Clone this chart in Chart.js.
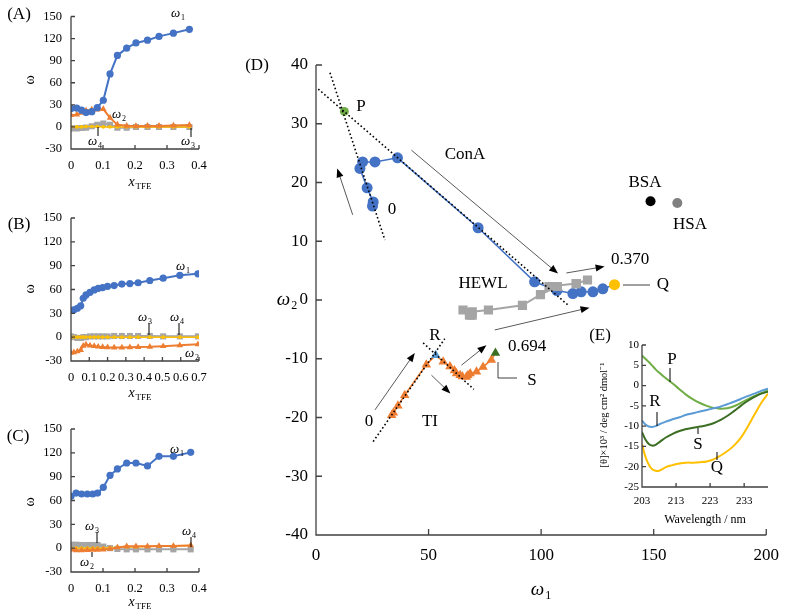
<!DOCTYPE html>
<html>
<head>
<meta charset="utf-8">
<script src="https://cdn.jsdelivr.net/npm/chart.js@4.4.1/dist/chart.umd.min.js"></script>
<style>
  body { margin: 0; background: #fff; }
  #fig { position: relative; width: 789px; height: 614px; overflow: hidden; }
  .box { position: absolute; }
</style>
</head>
<body>
<div id="fig">
  <div class="box" style="left:230px;top:0;width:559px;height:614px"><canvas id="cD"></canvas></div>
  <div class="box" style="left:0;top:0;width:230px;height:200px"><canvas id="cA"></canvas></div>
  <div class="box" style="left:0;top:200px;width:230px;height:200px"><canvas id="cB"></canvas></div>
  <div class="box" style="left:0;top:400px;width:230px;height:214px"><canvas id="cC"></canvas></div>
  <div class="box" style="left:540px;top:325px;width:249px;height:210px"><canvas id="cE"></canvas></div>
</div>
<script>
// (A) ConA, (B) TI, (C) HEWL: omega values vs TFE mole fraction
const xA = [0, 0.018, 0.033, 0.047, 0.065, 0.082, 0.101, 0.122, 0.145, 0.174, 0.203, 0.239, 0.275, 0.32, 0.37];
const a1 = [25.1, 25.4, 22.7, 19.5, 20.7, 26.2, 36.2, 72.0, 97.1, 107.0, 114.1, 117.8, 123.0, 127.4, 132.6];
const a2 = [16.0, 16.7, 19.1, 22.4, 23.5, 23.5, 24.2, 12.3, 3.1, 1.6, 1.1, 1.4, 1.4, 1.9, 2.6];
const a3 = [-2, -2, -1.5, -1, 1, 3, 4.5, 3, -1, -1, 0, 0, 0, 0, 0];
const a4 = [0, 0, 0, 0.5, 0.5, 0.5, 0, 0, 0, 0, 0, 0, 0, 0, 0];

const xB = [0, 0.016, 0.035, 0.053, 0.067, 0.082, 0.104, 0.127, 0.149, 0.173, 0.2, 0.236, 0.278, 0.322, 0.367, 0.431, 0.504, 0.595, 0.694];
const b1 = [33.6, 34.4, 36.4, 39.4, 49.0, 53.2, 56.5, 59.5, 61.5, 62.4, 64.0, 65.0, 66.8, 67.5, 68.5, 71.3, 74.2, 77.9, 79.7];
const b2 = [-19.6, -19.2, -18.0, -16.2, -11.0, -9.4, -10.5, -11.3, -12.0, -12.5, -12.8, -13.0, -13.1, -12.8, -12.5, -12.2, -11.4, -10.2, -9.0];
const b3 = [1, 0, -1, -1, 0, 0, 1, 1, 1, 1, 1, 1.5, 1.5, 1.5, 1.5, 1.5, 1, 1, 1];
const b4 = [0, 0, 0, 0, 0, 0, 0, 0, 0, 0, 0, 0, 0, 0, 0, 0, 0, 0, 0];

const xC = [0, 0.016, 0.033, 0.051, 0.068, 0.083, 0.101, 0.122, 0.145, 0.174, 0.203, 0.239, 0.275, 0.32, 0.374];
const c1 = [65.3, 69.4, 68.2, 68.2, 68.2, 69.4, 76.6, 91.7, 99.7, 107.2, 107.2, 103.5, 115.6, 115.6, 120.6];
const c2 = [-1.7, -2.6, -2.6, -2.4, -2.2, -2.0, -1.7, -0.9, 0.9, 2.3, 2.3, 2.3, 2.8, 2.8, 3.4];
const c3 = [4.4, 4.4, 4.0, 4.0, 4.0, 4.0, 2.0, 0, -1, -1.5, -1.5, -1.5, -1.5, -1.5, -1.5];
const c4 = [0, 0, 0, 0, 0, 0, 0, 0.5, 1, 1.5, 1.5, 2, 2.5, 3, 3.5];

// (D) reference points
const refNames = ['P', 'BSA', 'HSA'];
const refW1 = [12.6, 148.6, 160.5];
const refW2 = [32.1, 16.8, 16.5];

// (E) CD spectra
const wl = [203, 204, 205, 206, 207, 208, 209, 210, 212, 214, 216, 218, 220, 222, 224, 226, 228, 230, 232, 234, 236, 238, 240];
const cdP = [7.4, 6.6, 5.8, 4.9, 4.0, 3.2, 2.5, 1.8, 0.5, -0.9, -2.3, -3.4, -4.3, -5.0, -5.5, -5.7, -5.6, -5.1, -4.3, -3.4, -2.6, -1.9, -1.2];
const cdR = [-8.6, -9.6, -10.1, -10.2, -10.0, -9.6, -9.2, -8.9, -8.3, -7.8, -7.2, -6.8, -6.4, -6.0, -5.6, -5.2, -4.6, -4.0, -3.3, -2.6, -2.0, -1.3, -0.8];
const cdS = [-11.5, -13.3, -14.4, -14.8, -14.6, -14.0, -13.4, -12.8, -11.9, -11.2, -10.7, -10.4, -10.1, -9.8, -9.3, -8.5, -7.5, -6.3, -5.0, -3.8, -2.8, -2.0, -1.5];
const cdQ = [-14.4, -17.5, -19.5, -20.6, -21.0, -21.0, -20.6, -20.1, -19.6, -19.2, -19.0, -19.0, -18.9, -18.7, -18.2, -17.3, -16.2, -14.8, -12.9, -10.2, -7.2, -4.3, -2.0];
const wlTicks = [203, 213, 223, 233];

const serif = "'Liberation Serif', 'Times New Roman', serif";
const blue = '#4472c4', orange = '#ed7d31', gray = '#a5a5a5', yellow = '#ffc000';
const green = '#70ad47', lightBlue = '#5b9bd5', darkGreen = '#3b6e22';

function pts(xs, ys) { return xs.map((x, i) => ({ x: x, y: ys[i] })); }

function drawItem(chart, ctx, it) {
  const P = p => it.px ? p : [chart.scales.x.getPixelForValue(p[0]), chart.scales.y.getPixelForValue(p[1])];
  if (it.line) {
    ctx.save();
    ctx.strokeStyle = it.color || '#000';
    ctx.lineWidth = it.w || 1;
    ctx.setLineDash(it.dash || []);
    ctx.beginPath();
    it.line.forEach((p, i) => { const q = P(p); i ? ctx.lineTo(q[0], q[1]) : ctx.moveTo(q[0], q[1]); });
    ctx.stroke();
    ctx.restore();
  } else if (it.arrow) {
    const a = P(it.arrow[0]), b = P(it.arrow[1]);
    const ang = Math.atan2(b[1] - a[1], b[0] - a[0]);
    ctx.save();
    ctx.strokeStyle = '#595959';
    ctx.lineWidth = 1;
    ctx.beginPath();
    ctx.moveTo(a[0], a[1]);
    ctx.lineTo(b[0] - 6 * Math.cos(ang), b[1] - 6 * Math.sin(ang));
    ctx.stroke();
    ctx.translate(b[0], b[1]);
    ctx.rotate(ang);
    ctx.fillStyle = '#000';
    ctx.beginPath();
    ctx.moveTo(0, 0); ctx.lineTo(-9, -3.5); ctx.lineTo(-9, 3.5);
    ctx.closePath();
    ctx.fill();
    ctx.restore();
  } else if (it.text !== undefined) {
    const q = P(it.at);
    const s = it.size || 17;
    const f1 = (it.italic ? 'italic ' : '') + s + 'px ' + serif;
    ctx.save();
    ctx.translate(q[0], q[1]);
    if (it.rot) ctx.rotate(it.rot);
    ctx.fillStyle = '#000';
    ctx.textBaseline = 'middle';
    ctx.textAlign = 'left';
    ctx.font = f1;
    const w1 = ctx.measureText(it.text).width;
    let w2 = 0, f2;
    if (it.sub) {
      f2 = (it.subItalic ? 'italic ' : '') + Math.round(s * 0.65) + 'px ' + serif;
      ctx.font = f2;
      w2 = ctx.measureText(it.sub).width + 1;
    }
    const x0 = -(w1 + w2) / 2;
    ctx.font = f1;
    ctx.fillText(it.text, x0, 0);
    if (it.sub) { ctx.font = f2; ctx.fillText(it.sub, x0 + w1 + 1, s * 0.3); }
    ctx.restore();
  }
}

// axes with inward tick marks, plus annotations
const deco = {
  id: 'deco',
  afterDatasetsDraw(chart, args, o) {
    const ctx = chart.ctx, a = chart.chartArea, L = o.tick || 5;
    ctx.save();
    ctx.strokeStyle = '#404040';
    ctx.lineWidth = 1.3;
    ctx.beginPath();
    ctx.moveTo(a.left, a.top); ctx.lineTo(a.left, a.bottom); ctx.lineTo(a.right, a.bottom);
    chart.scales.x.ticks.forEach(t => {
      const x = chart.scales.x.getPixelForValue(t.value);
      ctx.moveTo(x, a.bottom); ctx.lineTo(x, a.bottom - L);
    });
    chart.scales.y.ticks.forEach(t => {
      const y = chart.scales.y.getPixelForValue(t.value);
      ctx.moveTo(a.left, y); ctx.lineTo(a.left + L, y);
    });
    ctx.stroke();
    ctx.restore();
    (o.items || []).forEach(it => drawItem(chart, ctx, it));
  }
};
Chart.register(deco);

function axis(min, max, step, size, pad, fit, horiz) {
  return {
    type: 'linear', min: min, max: max,
    ticks: { stepSize: step, color: '#000', font: { family: serif, size: size }, padding: pad, maxRotation: 0, autoSkip: false },
    grid: { display: false, drawTicks: false },
    border: { display: false },
    afterFit: s => { if (horiz) s.height = fit; else s.width = fit; }
  };
}

function series(data, color, style, r, lw) {
  return {
    data: data, showLine: true, borderColor: color, backgroundColor: color,
    pointStyle: style, pointRadius: r, pointBorderWidth: 0, borderWidth: lw
  };
}

function small(id, xs, s1, s2, s3, s4, xmax, top, xh, items) {
  new Chart(document.getElementById(id), {
    type: 'scatter',
    data: { datasets: [
      series(pts(xs, s1), blue, 'circle', 3.6, 2),
      series(pts(xs, s2), orange, 'triangle', 3.8, 2),
      series(pts(xs, s4), yellow, 'circle', 1.8, 1.5),
      series(pts(xs, s3), gray, 'rect', 4.3, 2)
    ] },
    options: {
      responsive: true, maintainAspectRatio: false, animation: false, devicePixelRatio: 1,
      layout: { padding: { left: 0, top: top, right: 31, bottom: 0 } },
      plugins: { legend: { display: false }, tooltip: { enabled: false }, deco: { tick: 4, items: items } },
      scales: { x: axis(0, xmax, 0.1, 12.5, 9, xh, true), y: axis(-30, 150, 30, 12.5, 9, 71, false) }
    }
  });
}

function w(n, at) { return { text: 'ω', sub: String(n), italic: true, size: 13, at: at, px: true }; }
function tick(x, y0, y1) { return { line: [[x, y0], [x, y1]], px: true }; }
const xT = at => ({ text: 'x', sub: 'TFE', italic: true, size: 14, at: at, px: true });
const wRot = at => ({ text: 'ω', size: 14, rot: -Math.PI / 2, at: at, px: true });

small('cA', xA, a1, a2, a3, a4, 0.4, 7, 51, [
  { text: '(A)', size: 17, at: [19, 15], px: true }, wRot([30, 80]), xT([140, 182]),
  w(1, [178, 14]), w(2, [119, 115]), w(4, [95, 142]), tick(98, 127, 136), w(3, [188, 142]), tick(191, 128, 137)
]);
small('cB', xB, b1, b2, b3, b4, 0.7, 18, 39, [
  { text: '(B)', size: 17, at: [19, 25], px: true }, wRot([30, 89]), xT([140, 193]),
  w(1, [183, 67]), w(3, [145, 118]), tick(149, 123, 135), w(4, [177, 118]), tick(179, 123, 135), w(2, [192, 154])
]);
small('cC', xC, c1, c2, c3, c4, 0.4, 29, 42, [
  { text: '(C)', size: 17, at: [18, 37], px: true }, wRot([30, 102]), xT([140, 202]),
  w(1, [177, 50]), w(3, [92, 127]), tick(97, 132, 143), w(2, [87, 163]), tick(92, 152, 157), w(4, [189, 132]), tick(191, 137, 147)
]);

// (D) omega2 vs omega1, built from the panel series
const conA = pts(a1, a2), ti = pts(b1, b2), hewl = pts(c1, c2);
const conAColors = conA.map((p, i) => i === conA.length - 1 ? yellow : blue);
const tiColors = ti.map((p, i) => i === ti.length - 1 ? darkGreen : (i === 5 ? lightBlue : orange));
const refColors = [green, '#000', '#808080'];

const T = (s, at) => ({ text: s, size: 17, at: at, px: true });
const dot = l => ({ line: l, dash: [1.6, 2.4], w: 1.6, color: '#000' });

new Chart(document.getElementById('cD'), {
  type: 'scatter',
  data: { datasets: [
    { data: refW1.map((x, i) => ({ x: x, y: refW2[i] })), backgroundColor: refColors, pointRadius: [4.5, 5, 5], pointBorderWidth: 0 },
    series(hewl, gray, 'rect', 6.5, 2),
    Object.assign(series(conA, blue, 'circle', 5.5, 1.6), { pointBackgroundColor: conAColors }),
    Object.assign(series(ti, orange, 'triangle', 5.5, 1.6), { pointBackgroundColor: tiColors })
  ] },
  options: {
    responsive: true, maintainAspectRatio: false, animation: false, devicePixelRatio: 1,
    layout: { padding: { left: 0, top: 65, right: 22, bottom: 0 } },
    plugins: { legend: { display: false }, tooltip: { enabled: false }, deco: { tick: 6, items: [
      T('(D)', [27, 66]),
      { text: 'ω', sub: '2', italic: true, size: 19, at: [57, 300], px: true },
      { text: 'ω', sub: '1', italic: true, size: 19, at: [311, 590], px: true },
      dot([[6.2, 38.7], [30.6, 10.2]]), dot([[1.0, 35.9], [111.9, -0.85]]),
      dot([[25.4, -24.1], [57.2, -6.6]]), dot([[47.6, -7.3], [70.1, -15.2]]),
      { arrow: [[16.3, 14.5], [9.4, 22.4]] }, { arrow: [[42.4, 25.5], [107.5, 4.5]] },
      { arrow: [[111.2, 4.6], [128.2, 5.7]] }, { arrow: [[79.4, -5.1], [121.5, -1.3]] },
      { arrow: [[26.2, -18.7], [43.9, -9.0]] }, { arrow: [[51.3, -12.8], [59.7, -15.9]] },
      { arrow: [[64.6, -11.1], [75.7, -7.7]] },
      T(refNames[0], [131, 107]), T('0', [162, 210]), T('ConA', [235, 155]),
      T(refNames[1], [415, 183]), T(refNames[2], [460, 225]), T('HEWL', [253, 284]),
      T('0.370', [400, 260]), T('Q', [433, 285]), { line: [[393, 285], [420, 285]], px: true, color: '#404040' },
      T('R', [205, 336]), T('0.694', [297, 347]), T('S', [302, 381]),
      { line: [[268, 362], [268, 378], [287, 378]], px: true, color: '#404040' },
      T('0', [139, 422]), T('TI', [200, 422])
    ] } },
    scales: { x: axis(0, 200, 50, 17, 10, 79, true), y: axis(-40, 40, 10, 17, 8, 86, false) }
  }
});

// (E) CD spectra inset
function cd(ys, color) {
  return { data: pts(wl, ys), showLine: true, borderColor: color, borderWidth: 2, pointRadius: 0, tension: 0.4 };
}
const xE = axis(203, 240, 10, 11, 8, 48, true);
xE.afterBuildTicks = s => { s.ticks = wlTicks.map(v => ({ value: v })); };
new Chart(document.getElementById('cE'), {
  type: 'scatter',
  data: { datasets: [cd(cdQ, yellow), cd(cdS, darkGreen), cd(cdR, lightBlue), cd(cdP, green)] },
  options: {
    responsive: true, maintainAspectRatio: false, animation: false, devicePixelRatio: 1,
    layout: { padding: { left: 0, top: 20, right: 21, bottom: 0 } },
    plugins: { legend: { display: false }, tooltip: { enabled: false }, deco: { tick: 4, items: [
      T('(E)', [60, 11]),
      { text: '[θ]×10³ / deg cm² dmol⁻¹', size: 10.5, rot: -Math.PI / 2, at: [64, 90], px: true },
      { text: 'Wavelength / nm', size: 12, at: [165, 195], px: true },
      T('P', [132, 35]), tick(130, 43, 57), T('R', [115, 77]), tick(117, 87, 101),
      T('S', [158, 120]), tick(158, 103, 109), T('Q', [177, 143]), tick(177, 127, 135)
    ] } },
    scales: { x: xE, y: axis(-25, 10, 5, 11, 3, 102, false) }
  }
});
</script>
</body>
</html>
